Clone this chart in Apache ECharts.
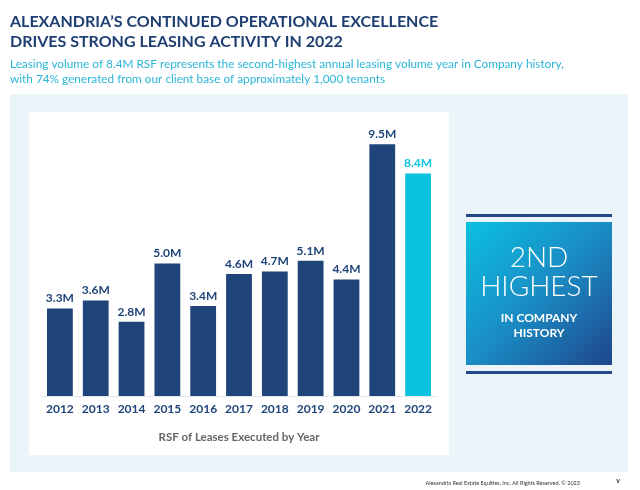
<!DOCTYPE html>
<html><head><meta charset="utf-8">
<script src="https://cdn.jsdelivr.net/npm/echarts@6/dist/echarts.min.js"></script>
<style>html,body{margin:0;padding:0;background:#fff}#c{width:640px;height:490px}</style>
</head><body><div id="c"></div>
<script>
const years = ['2012','2013','2014','2015','2016','2017','2018','2019','2020','2021','2022'];
const leasingVolumeM = [3.3, 3.6, 2.8, 5.0, 3.4, 4.6, 4.7, 5.1, 4.4, 9.5, 8.4];
const highlightYear = '2022';

const NAVY = '#1f4479', CYAN = '#0cc3df';
const chart = echarts.init(document.getElementById('c'));
const F = 'Lato, "Open Sans", sans-serif';
chart.setOption({
  animation: false,
  backgroundColor: '#ffffff',
  graphic: [
    {type:'rect', z:-10, shape:{x:10,y:94,width:618,height:378}, style:{fill:'#eaf4f9'}},
    {type:'rect', z:-9, shape:{x:29,y:112,width:420,height:343}, style:{fill:'#ffffff'}},
    {type:'text', left:10, top:12, style:{text:'ALEXANDRIA\u2019S CONTINUED OPERATIONAL EXCELLENCE\nDRIVES STRONG LEASING ACTIVITY IN 2022', font:'bold 16px '+F, fill:'#1f3f72', lineHeight:20}},
    {type:'text', left:10, top:57, style:{text:'Leasing volume of 8.4M RSF represents the second-highest annual leasing volume year in Company history,\nwith 74% generated from our client base of approximately 1,000 tenants', font:'11.8px '+F, fill:'#2bb5d8', lineHeight:14.5}},
    {type:'rect', shape:{x:466,y:214,width:146,height:3}, style:{fill:'#22488a'}},
    {type:'rect', shape:{x:466,y:371,width:146,height:3}, style:{fill:'#22488a'}},
    {type:'rect', shape:{x:466,y:222,width:146,height:143}, style:{fill:new echarts.graphic.LinearGradient(0,0,1,1,[{offset:0,color:'#0bc0e0'},{offset:0.5,color:'#1a8cc4'},{offset:1,color:'#1f468c'}])}},
    {type:'text', x:539, y:258, style:{text:'2ND', font:'300 28px '+F, fill:'#fff', align:'center', verticalAlign:'middle'}},
    {type:'text', x:539, y:287, style:{text:'HIGHEST', font:'300 28px '+F, fill:'#fff', align:'center', verticalAlign:'middle'}},
    {type:'text', x:539, y:318, style:{text:'IN COMPANY', font:'bold 12px '+F, fill:'#fff', align:'center', verticalAlign:'middle'}},
    {type:'text', x:539, y:333, style:{text:'HISTORY', font:'bold 12px '+F, fill:'#fff', align:'center', verticalAlign:'middle'}},
    {type:'text', x:580, y:483, style:{text:'Alexandria Real Estate Equities, Inc. All Rights Reserved. \u00a9 2023', font:'5.5px '+F, fill:'#333', align:'right', verticalAlign:'middle'}},
    {type:'text', x:618, y:481, style:{text:'v', font:'bold 7px '+F, fill:'#333', align:'center', verticalAlign:'middle'}}
  ],
  grid: {left:42, right:204, top:131, bottom:94},
  xAxis: {
    type:'category', data: years,
    axisTick:{show:false},
    axisLine:{lineStyle:{color:'#dfe5ec', width:1}},
    axisLabel:{interval:0, color:NAVY, fontFamily:F, fontWeight:'bold', fontSize:12, margin:7},
    name:'RSF of Leases Executed by Year', nameLocation:'middle', nameGap:35,
    nameTextStyle:{color:'#666', fontFamily:F, fontWeight:'bold', fontSize:11.5}
  },
  yAxis: {type:'value', min:0, max:10, show:false, splitLine:{show:false}},
  series: [{
    type:'bar', barWidth:'72%',
    data: leasingVolumeM.map((v,i)=>({
      value:v,
      itemStyle:{color: years[i]===highlightYear ? CYAN : NAVY},
      label:{color: years[i]===highlightYear ? CYAN : NAVY}
    })),
    label:{show:true, position:'top', distance:4, fontFamily:F, fontWeight:'bold', fontSize:12,
      formatter:p=>p.value.toFixed(1)+'M'}
  }]
});
</script></body></html>
